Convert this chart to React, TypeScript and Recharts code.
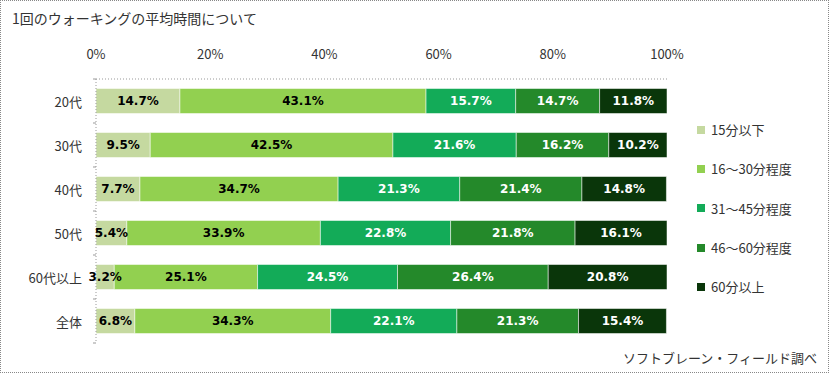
import React from "react";
import { BarChart, Bar, XAxis, YAxis, LabelList } from "recharts";

const categories = ["20代", "30代", "40代", "50代", "60代以上", "全体"];
const seriesNames = ["15分以下", "16～30分程度", "31～45分程度", "46～60分程度", "60分以上"];
const under15 = [14.7, 9.5, 7.7, 5.4, 3.2, 6.8];
const m16to30 = [43.1, 42.5, 34.7, 33.9, 25.1, 34.3];
const m31to45 = [15.7, 21.6, 21.3, 22.8, 24.5, 22.1];
const m46to60 = [14.7, 16.2, 21.4, 21.8, 26.4, 21.3];
const over60 = [11.8, 10.2, 14.8, 16.1, 20.8, 15.4];
const xTicks = [0, 20, 40, 60, 80, 100];

const colors = ["#c5d9a0", "#92d050", "#13ab58", "#24892a", "#0a360a"];
const labelColors = ["#000000", "#000000", "#ffffff", "#ffffff", "#ffffff"];
const keys = ["s0", "s1", "s2", "s3", "s4"];

const data = categories.map((name, i) => ({
    name,
    s0: under15[i],
    s1: m16to30[i],
    s2: m31to45[i],
    s3: m46to60[i],
    s4: over60[i],
}));

const FONT = "'Noto Sans CJK JP', 'Noto Sans', sans-serif";

const CategoryTick = ({ x, y, payload, index, visibleTicksCount }: any) => {
    const half = payload.offset || 22;
    const isLast = index === (visibleTicksCount ?? categories.length) - 1;
    return (
        <g>
            <line x1={x + 3} x2={x + 6} y1={y - half} y2={y - half} stroke="#999" />
            {isLast && <line x1={x + 3} x2={x + 6} y1={y + half} y2={y + half} stroke="#999" />}
            <text x={x - 8} y={y} textAnchor="end" dominantBaseline="central" fontSize={13} fill="#333" fontFamily={FONT}>
                {payload.value}
            </text>
        </g>
    );
};

export default function App() {
    return (
        <div style={{ position: "absolute", left: 0, top: 0, width: 829, height: 373, background: "#fff", fontFamily: FONT }}>
            <div style={{ position: "absolute", left: 0, top: 0, width: 827, height: 371, border: "1px dotted #888" }} />
            <div style={{ position: "absolute", left: 12, top: 8, fontSize: 14, color: "#333", whiteSpace: "nowrap" }}>
                1回のウォーキングの平均時間について
            </div>
            <BarChart
                width={829}
                height={373}
                data={data}
                layout="vertical"
                margin={{ top: 49, right: 162, bottom: 30, left: 10 }}
                barCategoryGap={9.5}
            >
                <XAxis
                    type="number"
                    orientation="top"
                    domain={[0, 100]}
                    ticks={xTicks}
                    tickFormatter={(v: number) => `${v}%`}
                    height={30}
                    tick={{ fontSize: 13, fill: "#333", fontFamily: FONT }}
                    tickLine={false}
                    tickMargin={14}
                    axisLine={{ stroke: "#999", strokeDasharray: "1 2" }}
                    allowDataOverflow
                />
                <YAxis
                    type="category"
                    dataKey="name"
                    width={86}
                    tick={<CategoryTick />}
                    tickLine={false}
                    tickMargin={0}
                    axisLine={{ stroke: "#999", strokeDasharray: "1 2" }}
                />
                {keys.map((k, i) => (
                    <Bar
                        key={k}
                        dataKey={k}
                        name={seriesNames[i]}
                        stackId="a"
                        fill={colors[i]}
                        stroke="#ffffff"
                        strokeOpacity={0.5}
                        strokeWidth={1}
                        isAnimationActive={false}
                    >
                        <LabelList
                            dataKey={k}
                            position="center"
                            formatter={(v: any) => `${Number(v).toFixed(1)}%`}
                            fill={labelColors[i]}
                            fontSize={12}
                            fontWeight="bold"
                            fontFamily="'DejaVu Sans', sans-serif"
                        />
                    </Bar>
                ))}
            </BarChart>
            <div style={{ position: "absolute", left: 697, top: 110, fontSize: 13, color: "#333" }}>
                {seriesNames.map((n, i) => (
                    <div key={n} style={{ height: 39.3, display: "flex", alignItems: "center", whiteSpace: "nowrap" }}>
                        <span style={{ width: 8, height: 8, background: colors[i], display: "inline-block", marginRight: 6 }} />
                        <span>{n}</span>
                    </div>
                ))}
            </div>
            <div style={{ position: "absolute", right: 12, top: 348, fontSize: 13, color: "#333", whiteSpace: "nowrap" }}>
                ソフトブレーン・フィールド調べ
            </div>
        </div>
    );
}
